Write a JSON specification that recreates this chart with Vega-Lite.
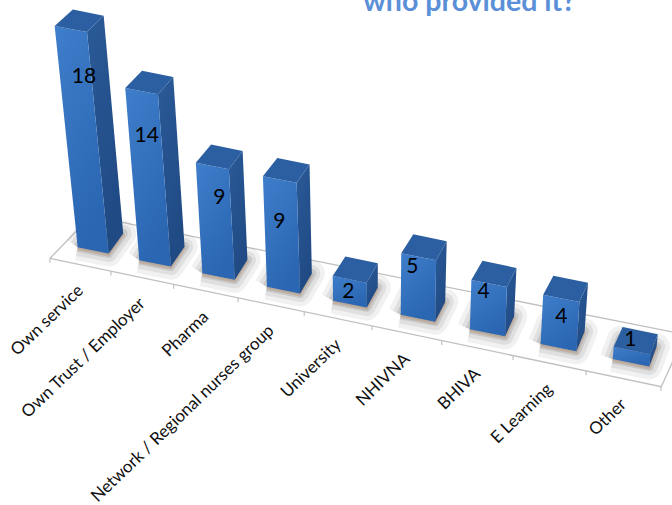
{
  "$schema": "https://vega.github.io/schema/vega-lite/v6.json",
  "width": 672,
  "height": 505,
  "padding": 0,
  "autosize": {"type": "none"},
  "background": "white",
  "title": {
    "text": "who provided it?",
    "anchor": "start",
    "frame": "group",
    "dx": 363,
    "offset": -16,
    "font": "Lato",
    "fontSize": 28.5,
    "fontWeight": "bold",
    "color": "#5b90d8"
  },
  "config": {"view": {"stroke": null}},
  "data": {
    "values": [
      {"source": "Own service", "count": 18},
      {"source": "Own Trust /  Employer", "count": 14},
      {"source": "Pharma", "count": 9},
      {"source": "Network / Regional nurses group", "count": 9},
      {"source": "University", "count": 2},
      {"source": "NHIVNA", "count": 5},
      {"source": "BHIVA", "count": 4},
      {"source": "E Learning", "count": 4},
      {"source": "Other", "count": 1}
    ]
  },
  "transform": [
    {"window": [{"op": "row_number", "as": "rn"}]},
    {"calculate": "datum.rn - 1", "as": "i"},
    {"calculate": "77.7 + 60.8 * datum.i + 0.76 * datum.i * datum.i", "as": "bx"},
    {"calculate": "31 + 0.7 * datum.i", "as": "w"},
    {"calculate": "247.3 + 0.209 * (datum.bx - 77.7)", "as": "by"},
    {"calculate": "12.3 * datum.count", "as": "h"},
    {"calculate": "0.104 - 0.0225 * datum.i", "as": "lean"},
    {"calculate": "14.5 - 0.9 * datum.i", "as": "dx0"},
    {"calculate": "datum.dx0 + 0.12 * datum.count", "as": "ddx"},
    {"calculate": "-20 + 0.2 * datum.count", "as": "ddy"},
    {"calculate": "datum.bx - datum.lean * datum.h", "as": "x1"},
    {"calculate": "datum.by - datum.h", "as": "y1"},
    {"calculate": "datum.bx + datum.w - (datum.lean - 0.006) * datum.h", "as": "x2"},
    {"calculate": "datum.by + 0.2 * datum.w - datum.h", "as": "y2"},
    {"calculate": "datum.x2 + datum.ddx", "as": "x3"},
    {"calculate": "datum.y2 + datum.ddy", "as": "y3"},
    {"calculate": "datum.x1 + datum.ddx + 1.5", "as": "x4"},
    {"calculate": "datum.y1 + datum.ddy", "as": "y4"},
    {"calculate": "datum.bx", "as": "x5"},
    {"calculate": "datum.by", "as": "y5"},
    {"calculate": "datum.bx + datum.w", "as": "x6"},
    {"calculate": "datum.by + 0.2 * datum.w", "as": "y6"},
    {"calculate": "datum.x6 + datum.dx0", "as": "x7"},
    {"calculate": "datum.y6 - 20", "as": "y7"},
    {"calculate": "datum.x5 + datum.dx0", "as": "x8"},
    {"calculate": "datum.y5 - 20", "as": "y8"}
  ],
  "encoding": {
    "x": {"field": "px", "type": "quantitative", "axis": null, "scale": {"domain": [0, 672], "nice": false, "zero": false}},
    "y": {"field": "py", "type": "quantitative", "axis": null, "scale": {"domain": [505, 0], "nice": false, "zero": false}}
  },
  "layer": [
    {
      "transform": [
        {"filter": "datum.i == 0"},
        {"calculate": "[0,1,2,3]", "as": "seq"},
        {"flatten": ["seq"]},
        {"calculate": "[50, 661.3, 685, 90.8][datum.seq]", "as": "px"},
        {"calculate": "[258.3, 386.7, 334.5, 216.2][datum.seq]", "as": "py"}
      ],
      "mark": {"type": "line", "fill": "#ffffff", "stroke": "#c0c0c0", "strokeWidth": 1.3, "clip": true},
      "encoding": {"order": {"field": "seq", "type": "quantitative"}}
    },
    {
      "transform": [
        {"filter": "datum.i == 0"},
        {"calculate": "[0,1]", "as": "seq"},
        {"flatten": ["seq"]},
        {"calculate": "[50, 90.8][datum.seq]", "as": "px"},
        {"calculate": "[258.3, 216.2][datum.seq]", "as": "py"}
      ],
      "mark": {"type": "line", "stroke": "#c0c0c0", "strokeWidth": 1.3},
      "encoding": {"order": {"field": "seq", "type": "quantitative"}}
    },
    {
      "transform": [
        {"calculate": "datum.i == 8 ? [8, 9] : [datum.i]", "as": "t"},
        {"flatten": ["t"]},
        {"calculate": "50 + 60.1 * datum.t + 0.865 * datum.t * datum.t", "as": "px"},
        {"calculate": "258.3 + 0.21 * (datum.px - 50)", "as": "py"},
        {"calculate": "datum.py + 4.4", "as": "py2"}
      ],
      "mark": {"type": "rule", "stroke": "#c0c0c0", "strokeWidth": 1.2},
      "encoding": {"y2": {"field": "py2"}}
    },
    {
      "transform": [
        {"calculate": "[0,1,2,3,4]", "as": "seq"},
        {"flatten": ["seq"]},
        {"calculate": "[5,6,7,8,5][datum.seq]", "as": "c"},
        {"calculate": "datum['x' + datum.c]", "as": "px"},
        {"calculate": "datum['y' + datum.c]", "as": "py"}
      ],
      "mark": {"type": "line", "fill": "#8c8c8c", "fillOpacity": 0.12, "stroke": "#8c8c8c", "strokeOpacity": 0.12, "strokeWidth": 26, "strokeJoin": "round"},
      "encoding": {"detail": {"field": "source"}, "order": {"field": "seq", "type": "quantitative"}}
    },
    {
      "transform": [
        {"calculate": "[0,1,2,3,4]", "as": "seq"},
        {"flatten": ["seq"]},
        {"calculate": "[5,6,7,8,5][datum.seq]", "as": "c"},
        {"calculate": "datum['x' + datum.c]", "as": "px"},
        {"calculate": "datum['y' + datum.c]", "as": "py"}
      ],
      "mark": {"type": "line", "fill": "#808080", "fillOpacity": 0.16, "stroke": "#808080", "strokeOpacity": 0.16, "strokeWidth": 17, "strokeJoin": "round"},
      "encoding": {"detail": {"field": "source"}, "order": {"field": "seq", "type": "quantitative"}}
    },
    {
      "transform": [
        {"calculate": "[0,1,2,3,4]", "as": "seq"},
        {"flatten": ["seq"]},
        {"calculate": "[5,6,7,8,5][datum.seq]", "as": "c"},
        {"calculate": "datum['x' + datum.c]", "as": "px"},
        {"calculate": "datum['y' + datum.c]", "as": "py"}
      ],
      "mark": {"type": "line", "fill": "#707070", "fillOpacity": 0.2, "stroke": "#707070", "strokeOpacity": 0.2, "strokeWidth": 9, "strokeJoin": "round"},
      "encoding": {"detail": {"field": "source"}, "order": {"field": "seq", "type": "quantitative"}}
    },
    {
      "transform": [
        {"calculate": "[0,1,2,3,4]", "as": "seq"},
        {"flatten": ["seq"]},
        {"calculate": "[5,6,7,8,5][datum.seq]", "as": "c"},
        {"calculate": "datum['x' + datum.c]", "as": "px"},
        {"calculate": "datum['y' + datum.c] + 1.5", "as": "py"}
      ],
      "mark": {"type": "line", "fill": "#8a7a6a", "fillOpacity": 0.25, "stroke": "#b89a80", "strokeOpacity": 0.45, "strokeWidth": 3, "strokeJoin": "round"},
      "encoding": {"detail": {"field": "source"}, "order": {"field": "seq", "type": "quantitative"}}
    },
    {
      "transform": [
        {"calculate": "[0,1,2,3]", "as": "seq"},
        {"flatten": ["seq"]},
        {"calculate": "[2,3,7,6][datum.seq]", "as": "c"},
        {"calculate": "datum['x' + datum.c]", "as": "px"},
        {"calculate": "datum['y' + datum.c]", "as": "py"}
      ],
      "mark": {
        "type": "line",
        "stroke": null,
        "fill": {
          "gradient": "linear", "x1": 0, "y1": 0, "x2": 0.4, "y2": 1,
          "stops": [{"offset": 0, "color": "#2a5a98"}, {"offset": 1, "color": "#204a84"}]
        }
      },
      "encoding": {"detail": {"field": "source"}, "order": {"field": "seq", "type": "quantitative"}}
    },
    {
      "transform": [
        {"calculate": "[0,1,2,3]", "as": "seq"},
        {"flatten": ["seq"]},
        {"calculate": "[1,2,6,5][datum.seq]", "as": "c"},
        {"calculate": "datum['x' + datum.c]", "as": "px"},
        {"calculate": "datum['y' + datum.c]", "as": "py"}
      ],
      "mark": {
        "type": "line",
        "stroke": null,
        "fill": {
          "gradient": "linear", "x1": 0, "y1": 0, "x2": 0.5, "y2": 1,
          "stops": [{"offset": 0, "color": "#3f7ecb"}, {"offset": 1, "color": "#2a66b2"}]
        }
      },
      "encoding": {"detail": {"field": "source"}, "order": {"field": "seq", "type": "quantitative"}}
    },
    {
      "transform": [
        {"calculate": "[0,1,2,3]", "as": "seq"},
        {"flatten": ["seq"]},
        {"calculate": "[1,2,3,4][datum.seq]", "as": "c"},
        {"calculate": "datum['x' + datum.c]", "as": "px"},
        {"calculate": "datum['y' + datum.c]", "as": "py"}
      ],
      "mark": {"type": "line", "stroke": null, "fill": "#2b5fa1"},
      "encoding": {"detail": {"field": "source"}, "order": {"field": "seq", "type": "quantitative"}}
    },
    {
      "transform": [
        {"calculate": "[84, 146.7, 219.3, 279.3, 348.3, 412.3, 483.7, 561.3, 630.3][datum.i]", "as": "px"},
        {"calculate": "[77.3, 135.7, 198.3, 222.3, 291.7, 266.7, 291.7, 316.7, 340][datum.i]", "as": "py"}
      ],
      "mark": {"type": "text", "font": "Lato", "fontSize": 21, "color": "#000000", "align": "center", "baseline": "middle"},
      "encoding": {"text": {"field": "count", "type": "quantitative"}}
    },
    {
      "transform": [
        {"calculate": "50 + 60.1 * (datum.i + 0.5) + 0.865 * (datum.i + 0.5) * (datum.i + 0.5)", "as": "mid"},
        {"calculate": "datum.mid + 0.5", "as": "px"},
        {"calculate": "258.3 + 0.21 * (datum.mid - 50) + 23.5", "as": "py"}
      ],
      "mark": {"type": "text", "font": "Lato", "fontSize": 17, "color": "#111111", "align": "right", "baseline": "middle", "angle": 316},
      "encoding": {"text": {"field": "source", "type": "nominal"}}
    }
  ]
}
